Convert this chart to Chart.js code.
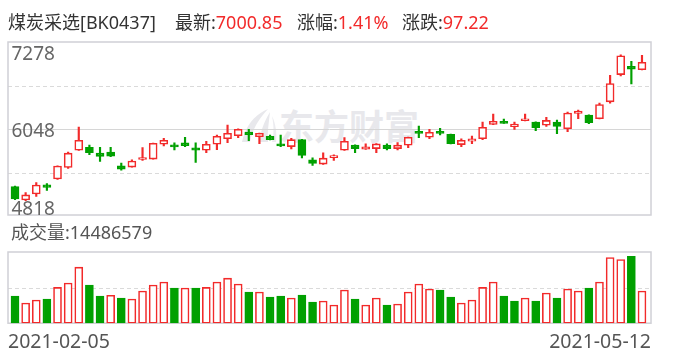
<!DOCTYPE html>
<html><head><meta charset="utf-8">
<script src="https://cdn.jsdelivr.net/npm/chart.js@4.4.1/dist/chart.umd.min.js"></script>
<style>
body{margin:0;background:#fff}
#wrap{position:relative;width:688px;height:360px;overflow:hidden;background:#fff}
.t{position:absolute;white-space:nowrap;font-family:'Noto Sans','Noto Sans CJK SC',sans-serif}
canvas{position:absolute;left:0;top:0}
.r{color:#f22a2a}
</style></head>
<body><div id="wrap">
<svg style="position:absolute;left:238px;top:108px" width="40" height="36" viewBox="0 0 40 36">
  <path d="M30 1 C18 6 8 16 4 34 L12 34 C14 22 20 12 30 1 Z" fill="#e8e8ec"/>
  <path d="M32 4 C26 14 22 24 22 34 L30 34 C29 24 31 14 32 4 Z" fill="#e8e8ec"/>
  <path d="M34 8 C36 18 36 26 34 34 L38 34 C39 26 38 16 34 8 Z" fill="#ececf0"/>
</svg>
<div class="t" id="wm" style="left:279px;top:107px;font-size:35px;line-height:35px;font-weight:700;color:#e8e8ec;font-family:'Noto Sans CJK SC',sans-serif">东方财富</div>
<canvas id="k" width="688" height="360"></canvas>
<canvas id="v" width="688" height="360"></canvas>
<div class="t" style="left:8px;top:13px;font-size:18px;line-height:18px;color:#333">煤炭采选[BK0437]</div>
<div class="t" style="left:175px;top:13px;font-size:18px;line-height:18px;color:#333">最新:<span class="r">7000.85</span></div>
<div class="t" style="left:297px;top:13px;font-size:18px;line-height:18px;color:#333">涨幅:<span class="r">1.41%</span></div>
<div class="t" style="left:402px;top:13px;font-size:18px;line-height:18px;color:#333">涨跌:<span class="r">97.22</span></div>
<div class="t" id="vl" style="left:11px;top:223px;font-size:18px;line-height:18px;color:#555">成交量:14486579</div>
<div class="t" style="left:8px;top:331px;font-size:19.5px;line-height:19.5px;color:#555">2021-02-05</div>
<div class="t" style="right:37px;top:331px;font-size:19.5px;line-height:19.5px;color:#555">2021-05-12</div>
</div>
<script>
const dates = ['2021-02-05','2021-02-08','2021-02-09','2021-02-10','2021-02-18','2021-02-19','2021-02-22','2021-02-23','2021-02-24','2021-02-25','2021-02-26',
'2021-03-01','2021-03-02','2021-03-03','2021-03-04','2021-03-05','2021-03-08','2021-03-09','2021-03-10','2021-03-11','2021-03-12',
'2021-03-15','2021-03-16','2021-03-17','2021-03-18','2021-03-19','2021-03-22','2021-03-23','2021-03-24','2021-03-25','2021-03-26',
'2021-03-29','2021-03-30','2021-03-31','2021-04-01','2021-04-02','2021-04-06','2021-04-07','2021-04-08','2021-04-09',
'2021-04-12','2021-04-13','2021-04-14','2021-04-15','2021-04-16','2021-04-19','2021-04-20','2021-04-21','2021-04-22','2021-04-23',
'2021-04-26','2021-04-27','2021-04-28','2021-04-29','2021-04-30','2021-05-06','2021-05-07','2021-05-10','2021-05-11','2021-05-12'];
const opens  = [5232,5044,5129,5260,5341,5505,5751,5793,5709,5723,5529,5511,5618,5624,5836,5812,5854,5784,5751,5836,5915,5957,6010,5943,5949,5840,5802,5901,5614,5553,5646,5751,5822,5765,5774,5822,5774,5822,6000,5935,6000,5977,5830,5878,5915,6119,6141,6085,6170,6151,6105,6151,6056,6274,6250,6198,6438,6826,6943,6896];
const highs  = [5242,5147,5289,5275,5530,5723,6080,5822,5793,5793,5567,5614,5788,5853,5921,5854,5935,5854,5878,5967,6109,6055,6048,5995,5967,5967,5921,5905,5642,5713,5685,5929,5826,5840,5845,5840,5859,5938,6095,6048,6062,5980,5911,5953,6151,6264,6194,6151,6264,6154,6218,6179,6293,6321,6253,6420,6816,7108,7014,7099];
const lows   = [5048,5034,5095,5180,5336,5491,5748,5689,5590,5658,5468,5508,5604,5622,5812,5755,5802,5576,5717,5760,5859,5929,5887,5844,5898,5802,5769,5642,5533,5550,5604,5748,5717,5762,5717,5755,5755,5788,5929,5915,5967,5841,5802,5844,5901,6115,6130,6048,6168,6028,6090,5986,6014,6198,6127,6195,6420,6806,6693,6893];
const closes = [5058,5115,5256,5222,5525,5709,5892,5717,5661,5666,5482,5596,5642,5850,5892,5798,5816,5751,5836,5949,5991,6048,5972,5991,5901,5812,5901,5675,5562,5638,5658,5878,5774,5798,5840,5774,5822,5935,5991,6006,5991,5844,5892,5911,6076,6161,6133,6123,6194,6071,6175,6090,6279,6307,6141,6401,6698,7094,6903.63,7000.85];
const volumes = [12260000,9120000,10470000,10910000,16150000,18090000,25270000,17190000,12260000,12560000,11360000,10910000,14500000,17190000,18540000,15850000,15850000,15850000,16150000,18540000,20330000,17640000,14050000,14050000,11810000,12260000,11360000,12710000,9570000,10020000,8220000,14950000,10910000,8220000,11360000,8220000,8670000,14050000,17640000,15400000,14950000,11810000,9120000,10470000,16150000,18540000,12260000,10020000,11360000,10020000,13600000,11360000,15400000,14500000,15850000,18540000,29600000,28700000,30200000,14486579];
const priceMin = 4818, priceMax = 7278;
const priceTicks = ['7278','6048','4818'];
const priceGrid = [6663, 6048, 5433];
const volMax = 32100000;
const volGrid = [16050000];

const RED = '#f22a2a', GREEN = '#00a000';
const FONT = "'Noto Sans','Noto Sans CJK SC',sans-serif";
const up = closes.map((c,i)=>c>=opens[i]);
const volUp = closes.map((c,i)=> i===0 ? c>=opens[0] : c>=closes[i-1]);

const PAD = {left:9.7, right:40.7};
function framePlugin(box, grids, solidVals, tickInfo){
  return {
    id:'frame',
    beforeDatasetsDraw(chart){
      const ctx = chart.ctx, y = chart.scales.y, a = chart.chartArea;
      ctx.save();
      ctx.lineWidth = 1;
      grids.forEach(v=>{
        const py = Math.round(y.getPixelForValue(v))+0.5;
        ctx.strokeStyle = solidVals.includes(v) ? '#d6d6d6' : '#dadada';
        ctx.setLineDash(solidVals.includes(v) ? [] : [4,3]);
        ctx.beginPath(); ctx.moveTo(box.l, py); ctx.lineTo(box.r, py); ctx.stroke();
      });
      ctx.setLineDash([]);
      ctx.strokeStyle = '#d0d0d6'; ctx.lineWidth = 1.5;
      ctx.strokeRect(box.l, a.top + box.t, box.r - box.l, a.bottom - a.top + box.b - box.t);
      if (tickInfo){
        ctx.fillStyle = '#666'; ctx.font = '19px ' + FONT; ctx.textAlign='left'; ctx.textBaseline='alphabetic';
        tickInfo.forEach((t,i)=>{
          const py = y.getPixelForValue(Number(t));
          const off = i===0 ? 17.2 : (i===tickInfo.length-1 ? -1 : 8);
          ctx.fillText(t, 11.5, py + off);
        });
      }
      ctx.restore();
    }
  };
}

new Chart(document.getElementById('k'), {
  type:'bar',
  data:{ labels: dates, datasets:[
    { label:'wick', data: lows.map((l,i)=>[l, highs[i]]), backgroundColor: up.map(u=>u?RED:GREEN), borderWidth:0, barThickness:1.5, grouped:false, order:2 },
    { label:'body', data: opens.map((o,i)=>[o, closes[i]]), backgroundColor: up.map(u=>u?'#ffffff':GREEN), borderColor: up.map(u=>u?RED:GREEN), borderWidth:1.6, borderSkipped:false, barThickness:8, grouped:false, minBarLength:2, order:1 }
  ]},
  options:{ responsive:false, animation:false, devicePixelRatio:1,
    layout:{ padding:{ left:PAD.left, right:PAD.right, top:42.8, bottom:144.2 } },
    plugins:{ legend:{display:false}, tooltip:{enabled:false} },
    scales:{ x:{ display:false, offset:true }, y:{ display:false, min:priceMin, max:priceMax } }
  },
  plugins:[ framePlugin({l:8, r:651, t:-0.8, b:-0.8}, priceGrid, [6048], priceTicks) ]
});

new Chart(document.getElementById('v'), {
  type:'bar',
  data:{ labels: dates, datasets:[
    { label:'vol', data: volumes, backgroundColor: volUp.map(u=>u?'#ffffff':GREEN), borderColor: volUp.map(u=>u?RED:GREEN), borderWidth:1.6, borderSkipped:false, barThickness:8, grouped:false }
  ]},
  options:{ responsive:false, animation:false, devicePixelRatio:1,
    layout:{ padding:{ left:PAD.left, right:PAD.right, top:252, bottom:36.8 } },
    plugins:{ legend:{display:false}, tooltip:{enabled:false} },
    scales:{ x:{ display:false, offset:true }, y:{ display:false, min:0, max:volMax } }
  },
  plugins:[ framePlugin({l:8, r:651, t:0, b:0}, volGrid, [], null) ]
});
</script>
</body></html>
